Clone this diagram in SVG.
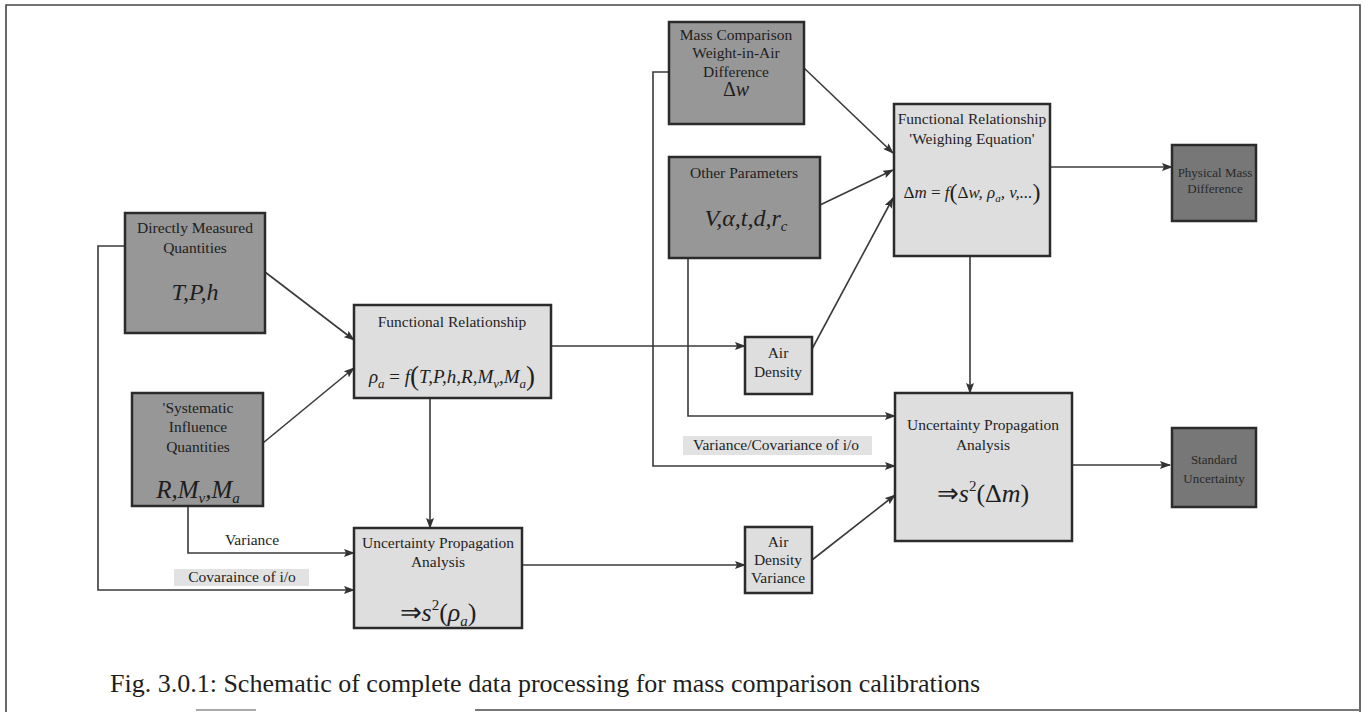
<svg xmlns="http://www.w3.org/2000/svg" width="1365" height="712" viewBox="0 0 1365 712">
<defs>
<marker id="ah" markerWidth="11" markerHeight="8" refX="10" refY="4" orient="auto" markerUnits="userSpaceOnUse">
<path d="M0,0 L11,4 L0,8 L2,4 z" fill="#333"/>
</marker>
<style>
.dk{fill:#979797;stroke:#2b2b2b;stroke-width:2.5}
.dk2{fill:#777;stroke:#2b2b2b;stroke-width:2.5}
.lt{fill:#dedede;stroke:#2b2b2b;stroke-width:2.5}
.t{font-family:"Liberation Serif",serif;font-size:15.5px;fill:#1e1e1e;text-anchor:middle}
.s{font-size:13px;fill:#2a2a2a}
.m{font-family:"Liberation Serif",serif;font-style:italic;fill:#1e1e1e;text-anchor:middle}
.n{font-style:normal}
.c{stroke:#3a3a3a;stroke-width:1.6;fill:none}
.a{marker-end:url(#ah)}
.bg{fill:#e2e2e2}
.fr{stroke:#444;stroke-width:1.6;fill:none}
</style>
</defs>
<rect width="1365" height="712" fill="#fff"/>
<g id="frame">
<path class="fr" d="M6,712 L6,5 L1360,5 L1360,712"/>
<path d="M475,710 L1360,710" stroke="#777" stroke-width="2" fill="none"/>
<path d="M196,710 L256,710" stroke="#aaa" stroke-width="2" fill="none"/>
</g>
<g id="connectors">
<path class="c a" d="M265,272 L354,340"/>
<path class="c a" d="M263,443 L354,368"/>
<path class="c a" d="M551,346 L745,346"/>
<path class="c a" d="M812,349 L893,198"/>
<path class="c a" d="M804,68 L893,153"/>
<path class="c a" d="M820,205 L893,170"/>
<path class="c a" d="M1050,167 L1172,167"/>
<path class="c a" d="M970,256 L970,393"/>
<path class="c a" d="M688,258 L688,416 L895,416"/>
<path class="c a" d="M669,72 L653,72 L653,466 L895,466"/>
<path class="c a" d="M812,560 L895,495"/>
<path class="c a" d="M1072,465 L1170,465"/>
<path class="c a" d="M430,398 L430,528"/>
<path class="c a" d="M522,565 L745,565"/>
<path class="c a" d="M188,506 L188,553 L354,553"/>
<path class="c a" d="M125,246 L98,246 L98,590 L354,590"/>
<rect class="bg" x="683" y="436" width="189" height="19"/>
<text class="t" x="776" y="450">Variance/Covariance of i/o</text>
<text class="t" x="252" y="545">Variance</text>
<rect class="bg" x="174" y="569" width="135" height="17"/>
<text class="t" x="242" y="582">Covaraince of i/o</text>
</g>
<g id="mass-comparison">
<rect class="dk" x="669" y="22" width="135" height="102"/>
<text class="t" x="736" y="40">Mass Comparison</text>
<text class="t" x="736" y="58">Weight-in-Air</text>
<text class="t" x="736" y="77">Difference</text>
<text class="m" x="736" y="96" font-size="20"><tspan class="n">Δ</tspan>w</text>
</g>
<g id="other-parameters">
<rect class="dk" x="669" y="157" width="151" height="101"/>
<text class="t" x="744" y="178">Other Parameters</text>
<text class="m" x="746" y="226" font-size="24">V,α,t,d,r<tspan font-size="15" dy="5">c</tspan></text>
</g>
<g id="weighing-equation">
<rect class="lt" x="894" y="104" width="156" height="152"/>
<text class="t" x="972" y="124">Functional Relationship</text>
<text class="t" x="972" y="144">'Weighing Equation'</text>
<text class="m" x="972" y="198" font-size="17"><tspan class="n">Δ</tspan>m<tspan class="n"> = </tspan>f<tspan class="n" font-size="24" dy="2">(</tspan><tspan class="n" dy="-2">Δ</tspan>w, ρ<tspan font-size="11" dy="4">a</tspan><tspan dy="-4">, v,...</tspan><tspan class="n" font-size="24" dy="2">)</tspan></text>
</g>
<g id="physical-mass-difference">
<rect class="dk2" x="1172" y="145" width="84" height="76"/>
<text class="t s" x="1215" y="177">Physical Mass</text>
<text class="t s" x="1215" y="193">Difference</text>
</g>
<g id="directly-measured">
<rect class="dk" x="125" y="213" width="140" height="120"/>
<text class="t" x="195" y="233">Directly Measured</text>
<text class="t" x="195" y="253">Quantities</text>
<text class="m" x="195" y="300" font-size="24">T,P,h</text>
</g>
<g id="systematic">
<rect class="dk" x="132" y="393" width="131" height="113"/>
<text class="t" x="198" y="413">'Systematic</text>
<text class="t" x="198" y="432">Influence</text>
<text class="t" x="198" y="452">Quantities</text>
<text class="m" x="198" y="498" font-size="25">R,M<tspan font-size="15" dy="5">v</tspan><tspan dy="-5">,M</tspan><tspan font-size="15" dy="5">a</tspan></text>
</g>
<g id="functional-relationship">
<rect class="lt" x="354" y="305" width="197" height="93"/>
<text class="t" x="452" y="327">Functional Relationship</text>
<text class="m" x="452" y="383" font-size="19">ρ<tspan font-size="13" dy="5">a</tspan><tspan class="n" dy="-5"> = </tspan>f<tspan class="n" font-size="27" dy="2">(</tspan><tspan dy="-2">T,P,h,R,M</tspan><tspan font-size="13" dy="5">v</tspan><tspan dy="-5">,M</tspan><tspan font-size="13" dy="5">a</tspan><tspan class="n" font-size="27" dy="-3">)</tspan></text>
</g>
<g id="air-density">
<rect class="lt" x="745" y="337" width="67" height="57"/>
<text class="t" x="778" y="358">Air</text>
<text class="t" x="778" y="377">Density</text>
</g>
<g id="upa-lower">
<rect class="lt" x="354" y="528" width="168" height="100"/>
<text class="t" x="438" y="548">Uncertainty Propagation</text>
<text class="t" x="438" y="567">Analysis</text>
<text class="m" x="438" y="621" font-size="26"><tspan class="n">⇒</tspan>s<tspan class="n" font-size="15" dy="-11">2</tspan><tspan class="n" dy="11">(</tspan>ρ<tspan font-size="15" dy="5">a</tspan><tspan class="n" dy="-5">)</tspan></text>
</g>
<g id="air-density-variance">
<rect class="lt" x="745" y="527" width="67" height="66"/>
<text class="t" x="778" y="547">Air</text>
<text class="t" x="778" y="565">Density</text>
<text class="t" x="778" y="583">Variance</text>
</g>
<g id="upa-right">
<rect class="lt" x="895" y="393" width="177" height="148"/>
<text class="t" x="983" y="430">Uncertainty Propagation</text>
<text class="t" x="983" y="450">Analysis</text>
<text class="m" x="983" y="502" font-size="26"><tspan class="n">⇒</tspan>s<tspan class="n" font-size="15" dy="-11">2</tspan><tspan class="n" dy="11">(Δ</tspan>m<tspan class="n">)</tspan></text>
</g>
<g id="standard-uncertainty">
<rect class="dk2" x="1172" y="428" width="84" height="79"/>
<text class="t s" x="1214" y="464">Standard</text>
<text class="t s" x="1214" y="483">Uncertainty</text>
</g>
<text x="110" y="692" font-family="Liberation Serif, serif" font-size="26" fill="#1e1e1e">Fig. 3.0.1: Schematic of complete data processing for mass comparison calibrations</text>
</svg>
